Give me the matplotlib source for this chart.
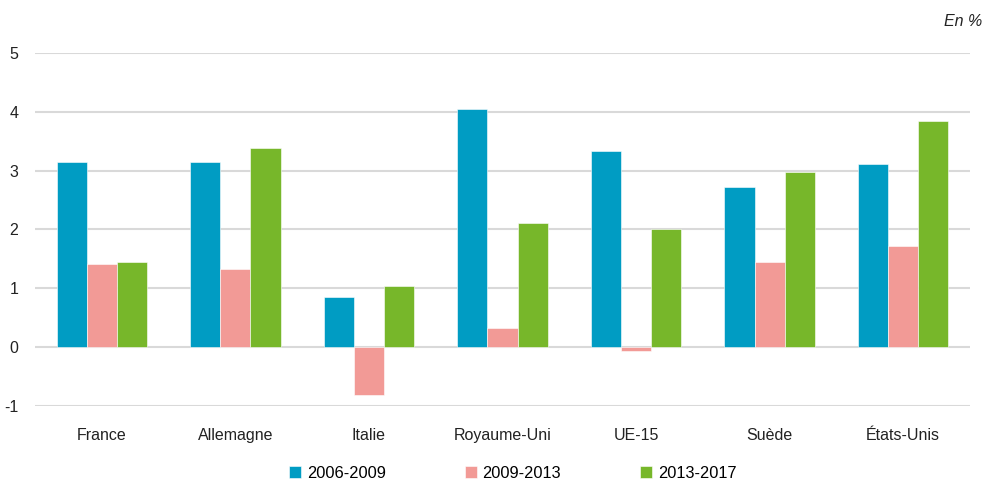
import numpy as np
import matplotlib.pyplot as plt

plt.rcParams['font.family'] = ['Liberation Sans', 'DejaVu Sans']
plt.rcParams['axes.unicode_minus'] = False

pays = ["France", "Allemagne", "Italie", "Royaume-Uni", "UE-15", "Suède", "États-Unis"]
periodes = ["2006-2009", "2009-2013", "2013-2017"]
v_2006_2009 = [3.15, 3.15, 0.86, 4.04, 3.33, 2.72, 3.12]
v_2009_2013 = [1.42, 1.32, -0.82, 0.32, -0.06, 1.45, 1.72]
v_2013_2017 = [1.45, 3.38, 1.04, 2.11, 2.00, 2.98, 3.84]
couleurs = ["#009cc3", "#f29a96", "#77b72a"]

fig = plt.figure(figsize=(10.04, 4.84), dpi=100)
ax = fig.add_axes([0.035, 0.1612, 0.931, 0.7293])

x = np.arange(len(pays))
w = 0.225
series = [v_2006_2009, v_2009_2013, v_2013_2017]
for i, (vals, c, lab) in enumerate(zip(series, couleurs, periodes)):
    ax.bar(x + (i - 1) * w, vals, width=w, color=c, label=lab, zorder=3,
           edgecolor="white", linewidth=0.4)

ax.set_xlim(-0.5, len(pays) - 0.5)
ax.set_ylim(-1, 5)
ax.set_yticks(range(-1, 6))
ax.grid(axis="y", color="#d9d9d9", linewidth=1.5, zorder=0)
for s in ax.spines.values():
    s.set_visible(False)
ax.tick_params(axis="both", length=0, labelsize=11.5, colors="#222222")
ax.tick_params(axis="y", pad=12)
ax.tick_params(axis="x", pad=16)
ax.set_xticks(x)
ax.set_xticklabels(pays)

fig.text(0.978, 0.955, "En %", style="italic", fontsize=11.5, ha="right", va="center", color="#222222")

ax.legend(loc="center", bbox_to_anchor=(0.511, -0.19), ncol=3, frameon=False,
          fontsize=11.8, handlelength=0.75, handleheight=0.75, handletextpad=0.35,
          columnspacing=4.8, borderaxespad=0, borderpad=0)

fig.savefig("out.png", dpi=100)
